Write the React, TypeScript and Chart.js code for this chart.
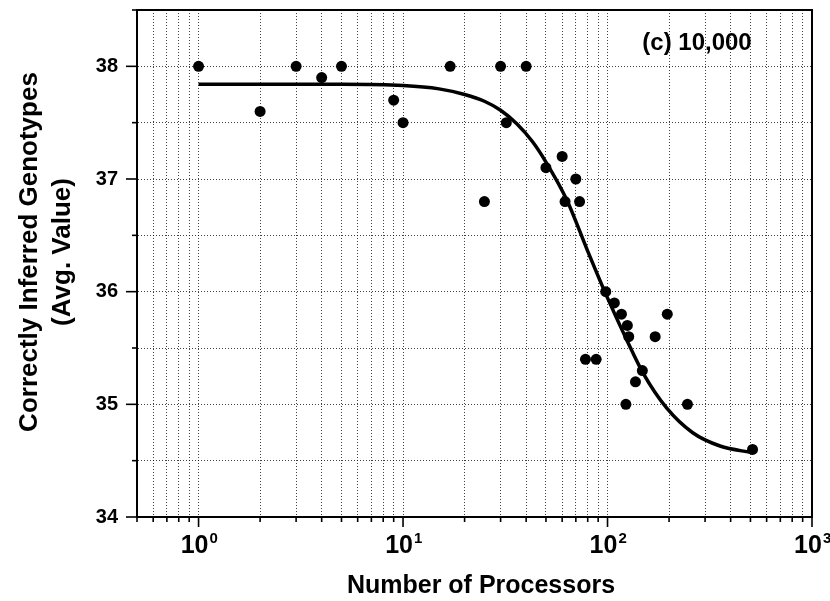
import React, { useEffect, useRef } from 'react';
import { Chart, registerables } from 'chart.js';

Chart.register(...registerables);

// Measured data points (Number of processors vs. avg. correctly inferred genotypes)
const processors = [1, 2, 3, 4, 5, 9, 10, 17, 25, 30, 32, 40, 50, 60, 62, 70, 73, 78, 88, 98, 108, 117, 123, 125, 127, 137, 148, 171, 196, 246, 512];
const genotypes = [38.0, 37.6, 38.0, 37.9, 38.0, 37.7, 37.5, 38.0, 36.8, 38.0, 37.5, 38.0, 37.1, 37.2, 36.8, 37.0, 36.8, 35.4, 35.4, 36.0, 35.9, 35.8, 35.0, 35.7, 35.6, 35.2, 35.3, 35.6, 35.8, 35.0, 34.6];

// Fitted curve
const fitProcessors = [1, 5, 10, 15, 20, 25, 30, 36, 43, 50, 63, 80, 98, 125, 150, 194, 260, 355, 512];
const fitValues = [37.84, 37.84, 37.83, 37.80, 37.75, 37.69, 37.61, 37.49, 37.33, 37.15, 36.82, 36.36, 35.98, 35.56, 35.27, 34.97, 34.75, 34.63, 34.57];

// Axis ticks
const xTickValues = [0.5, 0.6, 0.7, 0.8, 0.9, 1, 2, 3, 4, 5, 6, 7, 8, 9, 10, 20, 30, 40, 50, 60, 70, 80, 90, 100, 200, 300, 400, 500, 600, 700, 800, 900, 1000];
const xDecades = [1, 10, 100, 1000];
const xDecadeBase = ['10', '10', '10', '10'];
const xDecadeExp = ['0', '1', '2', '3'];
const yMajorTicks = [34, 35, 36, 37, 38];
const yTickLabels = ['34', '35', '36', '37', '38'];

const xTitle = 'Number of Processors';
const yTitleLines = ['Correctly Inferred Genotypes', '(Avg. Value)'];
const panelLabel = '(c) 10,000';

const FONT = '"Liberation Sans", Arial, Helvetica, sans-serif';

const decorPlugin = {
  id: 'decor',
  afterDraw(chart: any) {
    const { ctx, chartArea: ca } = chart;
    const xs = chart.scales.x;
    const ys = chart.scales.y;
    ctx.save();
    // frame
    ctx.strokeStyle = '#000';
    ctx.lineWidth = 2;
    ctx.setLineDash([]);
    ctx.strokeRect(ca.left, ca.top, ca.right - ca.left, ca.bottom - ca.top);
    // tick marks
    ctx.lineWidth = 1.6;
    xs.ticks.forEach((t: any) => {
      const px = xs.getPixelForValue(t.value);
      const len = xDecades.includes(t.value) ? 10 : 5;
      ctx.beginPath();
      ctx.moveTo(px, ca.bottom);
      ctx.lineTo(px, ca.bottom + len);
      ctx.stroke();
    });
    ys.ticks.forEach((t: any) => {
      const py = ys.getPixelForValue(t.value);
      const len = yMajorTicks.includes(t.value) ? 11 : 5;
      ctx.beginPath();
      ctx.moveTo(ca.left, py);
      ctx.lineTo(ca.left - len, py);
      ctx.stroke();
    });
    // exponents of x tick labels
    ctx.fillStyle = '#000';
    xDecades.forEach((d, i) => {
      ctx.font = `bold 25px ${FONT}`;
      const w = ctx.measureText(xDecadeBase[i]).width;
      const px = xs.getPixelForValue(d) - 4;
      ctx.font = `bold 15px ${FONT}`;
      ctx.textAlign = 'left';
      ctx.textBaseline = 'middle';
      ctx.fillText(xDecadeExp[i], px + w / 2 + 1, ca.bottom + 22);
    });
    // x title
    ctx.font = `bold 25px ${FONT}`;
    ctx.textAlign = 'center';
    ctx.textBaseline = 'alphabetic';
    ctx.fillText(xTitle, 481, 593);
    // y title
    ctx.font = `bold 26px ${FONT}`;
    const baselines = [37, 70];
    yTitleLines.forEach((line, i) => {
      ctx.save();
      ctx.translate(baselines[i], 252);
      ctx.rotate(-Math.PI / 2);
      ctx.textAlign = 'center';
      ctx.textBaseline = 'alphabetic';
      ctx.fillText(line, 0, 0);
      ctx.restore();
    });
    // panel label
    ctx.font = `bold 24px ${FONT}`;
    ctx.textAlign = 'center';
    ctx.textBaseline = 'alphabetic';
    ctx.fillText(panelLabel, ca.right - 115, ca.top + 40);
    ctx.restore();
  },
};

export default function App() {
  const ref = useRef<HTMLCanvasElement | null>(null);
  useEffect(() => {
    if (!ref.current) return;
    const gridStyle = {
      display: true,
      drawTicks: false,
      color: 'rgba(0,0,0,0.75)',
      lineWidth: 1,
    };
    const borderStyle = { display: true, color: '#000', width: 2, dash: [1, 2] };
    const chart = new Chart(ref.current, {
      type: 'scatter',
      data: {
        datasets: [
          {
            label: 'data',
            data: processors.map((p, i) => ({ x: p, y: genotypes[i] })),
            pointRadius: 5.5,
            pointHoverRadius: 5.5,
            backgroundColor: '#000',
            borderColor: '#000',
            borderWidth: 0,
            showLine: false,
          },
          {
            label: 'fit',
            data: fitProcessors.map((p, i) => ({ x: p, y: fitValues[i] })),
            showLine: true,
            pointRadius: 0,
            borderColor: '#000',
            borderWidth: 3.5,
            cubicInterpolationMode: 'monotone',
            fill: false,
          },
        ],
      },
      plugins: [decorPlugin],
      options: {
        animation: false,
        responsive: true,
        maintainAspectRatio: false,
        layout: { padding: { top: 10, right: 18, left: 0, bottom: 0 } },
        plugins: { legend: { display: false }, tooltip: { enabled: false } },
        scales: {
          x: {
            type: 'logarithmic',
            min: 0.5,
            max: 1000,
            afterBuildTicks: (scale: any) => {
              scale.ticks = xTickValues.map((v) => ({ value: v, major: xDecades.includes(v) }));
            },
            afterFit: (scale: any) => {
              scale.height = 84;
              scale.paddingLeft = 0;
              scale.paddingRight = 0;
            },
            grid: gridStyle,
            border: borderStyle,
            ticks: {
              autoSkip: false,
              maxRotation: 0,
              minRotation: 0,
              padding: 14,
              labelOffset: -4,
              color: '#000',
              font: { family: FONT, size: 25, weight: 'bold' },
              callback: (value: any) => {
                const i = xDecades.indexOf(Number(value));
                return i >= 0 ? xDecadeBase[i] : '';
              },
            },
            title: { display: false },
          },
          y: {
            type: 'linear',
            min: 34,
            max: 38.5,
            afterFit: (scale: any) => {
              scale.width = 137;
              scale.paddingTop = 0;
              scale.paddingBottom = 0;
            },
            grid: gridStyle,
            border: borderStyle,
            ticks: {
              stepSize: 0.5,
              autoSkip: false,
              padding: 19,
              color: '#000',
              font: { family: FONT, size: 20, weight: 'bold' },
              callback: (value: any) => {
                const i = yMajorTicks.indexOf(Number(value));
                return i >= 0 ? yTickLabels[i] : '';
              },
            },
            title: { display: false },
          },
        },
      },
    } as any);
    return () => chart.destroy();
  }, []);
  return (
    <div style={{ position: 'fixed', left: 0, top: 0, width: 830, height: 601, background: '#fff' }}>
      <canvas ref={ref} />
    </div>
  );
}
